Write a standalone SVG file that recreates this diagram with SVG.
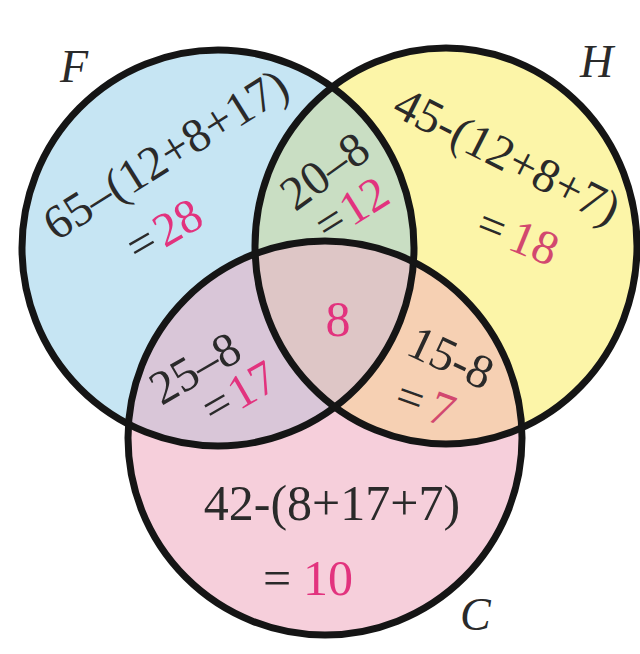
<svg xmlns="http://www.w3.org/2000/svg" width="640" height="654" viewBox="0 0 640 654">
  <style>
    .outline { fill: none; stroke: #151515; stroke-width: 7; }
    .t { font-family: "Liberation Serif", "Times New Roman", serif; font-size: 48px; fill: #2a2a2a; text-anchor: middle; }
    .p { fill: #e2337e; }
    .pm { fill: #d2486f; }
    .lbl { font-family: "Liberation Serif", "Times New Roman", serif; font-size: 46px; font-style: italic; fill: #2a2a2a; }
  </style>
  <defs>
    <clipPath id="clipF"><ellipse cx="218" cy="248" rx="196" ry="198"/></clipPath>
    <clipPath id="clipH"><ellipse cx="446" cy="246" rx="191" ry="198"/></clipPath>
    <clipPath id="clipC"><ellipse cx="325" cy="438" rx="197" ry="197"/></clipPath>
  </defs>
  <rect width="640" height="654" fill="#ffffff"/>

  <g id="regions">
    <ellipse cx="218" cy="248" rx="196" ry="198" fill="#c6e5f3"/>
    <ellipse cx="446" cy="246" rx="191" ry="198" fill="#fcf5a8"/>
    <ellipse cx="325" cy="438" rx="197" ry="197" fill="#f6cfdb"/>
    <ellipse cx="446" cy="246" rx="191" ry="198" fill="#c9dec3" clip-path="url(#clipF)"/>
    <ellipse cx="325" cy="438" rx="197" ry="197" fill="#d9c6d8" clip-path="url(#clipF)"/>
    <ellipse cx="325" cy="438" rx="197" ry="197" fill="#f6d0b3" clip-path="url(#clipH)"/>
    <g clip-path="url(#clipH)">
      <ellipse cx="325" cy="438" rx="197" ry="197" fill="#dec6c6" clip-path="url(#clipF)"/>
    </g>
  </g>

  <g id="node-F">
    <ellipse class="outline" cx="218" cy="248" rx="196" ry="198"/>
    <text class="lbl" x="60" y="82">F</text>
    <text class="t" transform="translate(174,168) rotate(-32)">65–(12+8+17)</text>
    <text class="t" transform="translate(172,244) rotate(-30)">=<tspan class="p" dx="4">28</tspan></text>
  </g>

  <g id="node-H">
    <ellipse class="outline" cx="446" cy="246" rx="191" ry="198"/>
    <text class="lbl" x="580" y="77">H</text>
    <text class="t" transform="translate(500,170) rotate(27)">45-(12+8+7)</text>
    <text class="t" transform="translate(512,251) rotate(22)">=<tspan class="pm" dx="8">18</tspan></text>
  </g>

  <g id="node-C">
    <ellipse class="outline" cx="325" cy="438" rx="197" ry="197"/>
    <text class="lbl" x="460" y="630">C</text>
    <text class="t" x="332" y="520" style="font-size:50px">42-(8+17+7)</text>
    <text class="t" x="308" y="595" style="font-size:50px">=<tspan class="p" dx="12">10</tspan></text>
  </g>

  <g id="node-FH">
    <text class="t" transform="translate(334,184) rotate(-36)">20–8</text>
    <text class="t" transform="translate(360,222) rotate(-32)">=<tspan class="p" dx="2">12</tspan></text>
  </g>

  <g id="node-FC">
    <text class="t" transform="translate(203,382) rotate(-30)">25–8</text>
    <text class="t" transform="translate(247,406) rotate(-30)">=<tspan class="p" dx="3">17</tspan></text>
  </g>

  <g id="node-HC">
    <text class="t" transform="translate(444,372) rotate(25)">15-8</text>
    <text class="t" transform="translate(420,418) rotate(20)">=<tspan class="pm" dx="8">7</tspan></text>
  </g>

  <g id="node-FHC">
    <text class="t p" x="338" y="336" style="font-size:50px">8</text>
  </g>
</svg>
